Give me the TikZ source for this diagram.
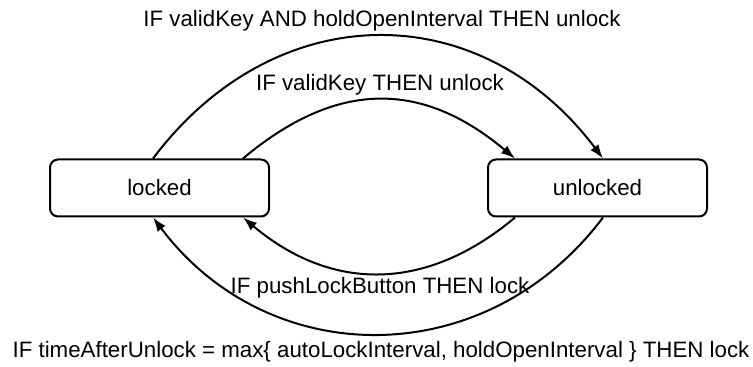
\documentclass[tikz,border=0pt]{standalone}
\usepackage{fontspec}
\setmainfont{Liberation Sans}
\usepackage{tikz}
\usetikzlibrary{arrows.meta,calc}
\definecolor{inkBlack}{RGB}{0,0,0}
\tikzset{
  state box/.style={draw=inkBlack,rounded corners=8pt,line width=2pt,align=center,text=inkBlack,font=\fontsize{22.3}{25}\selectfont,minimum width=219pt,minimum height=57pt,inner sep=0pt},
  trans label/.style={text=inkBlack,font=\fontsize{22.3}{25}\selectfont,inner sep=0pt},
  trans arrow/.style={-{Latex[length=14pt,width=10pt]},line width=2pt,draw=inkBlack}
}
\begin{document}
\begin{tikzpicture}[x=1pt,y=1pt]
        \useasboundingbox (0,0) rectangle (753,367);
        \node[state box] (locked) at (159.5,179) {locked};
        \node[state box] (unlocked) at (597.5,179) {unlocked};
        \node[trans label] (keyhold) at (382,346) {IF validKey AND holdOpenInterval THEN unlock};
        \node[trans label] (key) at (380,282) {IF validKey THEN unlock};
        \node[trans label] (push) at (380,79) {IF pushLockButton THEN lock};
        \node[trans label] (timeout) at (381,15) {IF timeAfterUnlock = max\{ autoLockInterval, holdOpenInterval \} THEN lock};
        \draw[trans arrow] ([xshift=-6.5pt]locked.north) .. controls +(53:204pt) and +(127:204pt) .. ([xshift=5.5pt]unlocked.north);
        \draw[trans arrow] ([xshift=83.5pt]locked.north) .. controls +(40:122pt) and +(140:122pt) .. ([xshift=-82.5pt]unlocked.north);
        \draw[trans arrow] ([xshift=-82.5pt]unlocked.south) .. controls +(-140:116pt) and +(-40:116pt) .. ([xshift=83.5pt]locked.south);
        \draw[trans arrow] ([xshift=5.5pt]unlocked.south) .. controls +(-127:194pt) and +(-53:194pt) .. ([xshift=-6.5pt]locked.south);
      \end{tikzpicture}
\end{document}
